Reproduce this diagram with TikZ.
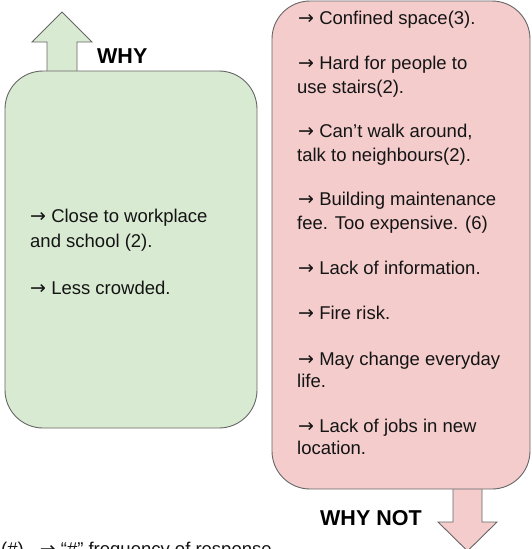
\documentclass[tikz,border=0pt]{standalone}
\usepackage{fontspec}
\setmainfont{Liberation Sans}
\newfontfamily\arrowfont{DejaVu Sans}
\newcommand\myarr{{\arrowfont\fontsize{19}{19}\selectfont →}}
\definecolor{gfill}{HTML}{D9EAD3}
\definecolor{pfill}{HTML}{F4CCCC}
\definecolor{edge}{HTML}{666666}
\definecolor{txt}{HTML}{141414}
\begin{document}
\begin{tikzpicture}[x=1pt,y=-1pt,
  box/.style={draw=edge,line width=0.9pt,rounded corners=38pt},
  arr/.style={draw=edge,line width=0.9pt,line join=miter},
  body/.style={anchor=base west,inner sep=0pt,text=txt,font=\fontsize{18.5}{22}\selectfont},
  head/.style={anchor=base west,inner sep=0pt,text=black,font=\fontsize{21.5}{24}\selectfont\bfseries}]
\useasboundingbox (0,0) rectangle (531,549);
\clip (0,0) rectangle (531,549);
% arrows
\path[arr,fill=gfill] (47,72) -- (47,42) -- (32,42) -- (62,12) -- (92,42) -- (77,42) -- (77,72);
\path[arr,fill=pfill] (453,488) -- (453,522) -- (438,522) -- (467.5,551) -- (497,522) -- (482,522) -- (482,488);
% boxes
\path[box,fill=gfill] (5,71) rectangle (257,428);
\path[box,fill=pfill] (272,1) rectangle (530,489);
% headings
\node[head] (why) at (97,63) {WHY};
\node[head] (whynot) at (320,525) {WHY NOT};
% green text
\node[body] (g1a) at (30,222) {\myarr{} Close to workplace};
\node[body] (g1b) at (30,247) {and school (2).};
\node[body] (g2) at (30,294) {\myarr{} Less crowded.};
% pink text
\node[body] (p1) at (298,24) {\myarr{} Confined space(3).};
\node[body] (p2a) at (298,69) {\myarr{} Hard for people to};
\node[body] (p2b) at (297,93) {use stairs(2).};
\node[body] (p3a) at (298,137) {\myarr{} Can’t walk around,};
\node[body] (p3b) at (297,161) {talk to neighbours(2).};
\node[body] (p4a) at (298,205) {\myarr{} Building maintenance};
\node[body] (p4b) at (297,229) {fee. Too expensive. (6)};
\node[body] (p5) at (298,274) {\myarr{} Lack of information.};
\node[body] (p6) at (298,319) {\myarr{} Fire risk.};
\node[body] (p7a) at (298,365) {\myarr{} May change everyday};
\node[body] (p7b) at (297,387) {life.};
\node[body] (p8a) at (298,432) {\myarr{} Lack of jobs in new};
\node[body] (p8b) at (297,454) {location.};
% footnote
\node[body] (note) at (1,555) {(\#)\hspace{16pt}\myarr{} “\#” frequency of response};
\end{tikzpicture}
\end{document}
